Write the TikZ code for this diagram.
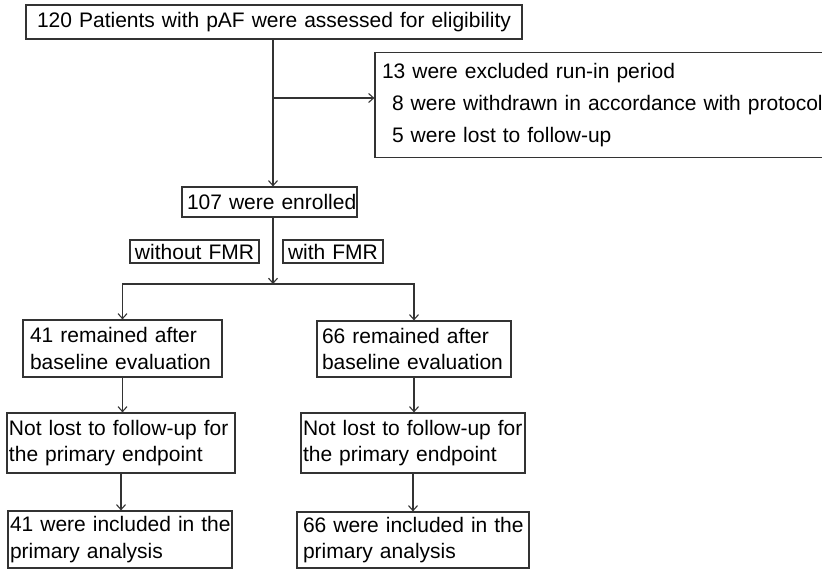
\documentclass[tikz,border=0pt]{standalone}
\usepackage{fontspec}
\setmainfont{Liberation Sans}
\usetikzlibrary{arrows.meta,calc}
\begin{document}
\begin{tikzpicture}[x=1pt,y=-1pt,
  box/.style={draw=black!80,line width=1.2pt,inner ysep=0pt,align=left,
    font=\fontsize{21}{26.5}\selectfont,anchor=center},
  arr/.style={draw=black!80,line width=1.1pt,-{Straight Barb[length=5pt,width=9pt]}},
  ln/.style={draw=black!80,line width=1.1pt}]
\useasboundingbox (0,0) rectangle (822,571);

\node[box,align=center,minimum height=34pt,text width=480pt,inner xsep=8pt] (top) at (274,22)
  {\mbox{120 Patients with pAF were assessed for eligibility}};
\node[box,minimum height=105pt,text width=437pt,inner xsep=7pt,
  font=\fontsize{21}{32}\selectfont] (excl) at (600.5,105)
  {\mbox{13 were excluded run-in period}\\
   \mbox{\hspace*{10pt}8 were withdrawn in accordance with protocol}\\
   \mbox{\hspace*{10pt}5 were lost to follow-up}};
\node[box,align=center,minimum height=30pt,text width=165pt,inner xsep=5pt] (enrolled) at (269.5,202)
  {\mbox{107 were enrolled}};
\node[box,align=center,minimum height=23pt,text width=125pt,inner xsep=2pt] (wo) at (194.5,251.5)
  {\mbox{without FMR}};
\node[box,align=center,minimum height=23pt,text width=96pt,inner xsep=2pt] (wi) at (333,251.5)
  {\mbox{with FMR}};

\node[box,minimum height=57pt,text width=185pt,inner xsep=7pt] (L1) at (122.5,348.5)
  {\mbox{41 remained after}\\\mbox{baseline evaluation}};
\node[box,minimum height=60pt,text width=224pt,inner xsep=2pt] (L2) at (121,443)
  {\mbox{Not lost to follow-up for}\\\mbox{the primary endpoint}};
\node[box,minimum height=57pt,text width=220pt,inner xsep=2pt] (L3) at (120,539.5)
  {\mbox{41 were included in the}\\\mbox{primary analysis}};

\node[box,minimum height=56pt,text width=184pt,inner xsep=5pt] (R1) at (414,349)
  {\mbox{66 remained after}\\\mbox{baseline evaluation}};
\node[box,minimum height=60pt,text width=220pt,inner xsep=2pt] (R2) at (413,443)
  {\mbox{Not lost to follow-up for}\\\mbox{the primary endpoint}};
\node[box,minimum height=56pt,text width=220pt,inner xsep=6pt] (R3) at (413,540)
  {\mbox{66 were included in the}\\\mbox{primary analysis}};

\coordinate (trunk) at (273,0);
\coordinate (br) at (273,98);
\coordinate (split) at (273,284);

\draw[arr] (top.south -| trunk) -- (enrolled.north -| trunk);
\draw[arr] (br) -- (br -| excl.west);
\draw[arr] (enrolled.south -| trunk) -- (split);
\draw[arr] (split) -| (L1.north);
\draw[arr] (split) -| (R1.north);
\draw[arr] (L1.south) -- (L1.south |- L2.north);
\draw[arr] (L2.south) -- (L2.south |- L3.north);
\draw[arr] (R1.south) -- (R1.south |- R2.north);
\draw[arr] (R2.south) -- (R2.south |- R3.north);
\end{tikzpicture}
\end{document}
